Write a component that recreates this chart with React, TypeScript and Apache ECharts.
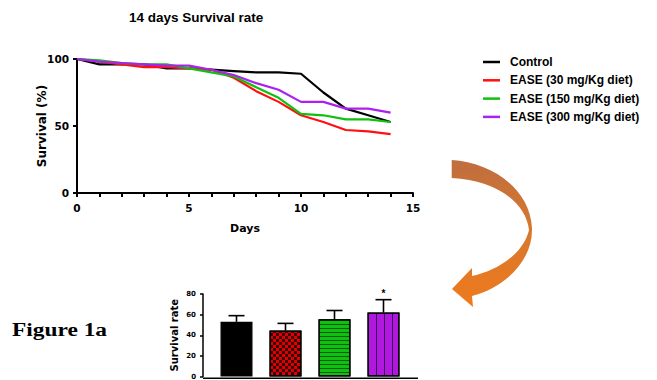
import React, { useEffect, useRef } from "react";
import * as echarts from "echarts";

const days = [0, 1, 2, 3, 4, 5, 6, 7, 8, 9, 10, 11, 12, 13, 14];
const control = [100, 96, 96, 96, 93, 93, 92, 91, 90, 90, 89, 75, 63, 58, 53];
const ease30 = [100, 98, 96, 94, 94, 93, 92, 86, 76, 68, 58, 53, 47, 46, 44];
const ease150 = [100, 99, 97, 96, 96, 93, 90, 87, 79, 71, 59, 58, 55, 55, 53];
const ease300 = [100, 98, 97, 96, 95, 95, 92, 88, 82, 77, 68, 68, 63, 63, 60];
const seriesNames = ["Control", "EASE (30 mg/Kg diet)", "EASE (150 mg/Kg diet)", "EASE (300 mg/Kg diet)"];

const groups = ["Control", "EASE 30", "EASE 150", "EASE 300"];
const barMeans = [53, 44.5, 55.5, 62];
const barErrors = [6, 7, 8.5, 12.5];
const barSig = ["", "", "", "*"];

const FONT = "'Liberation Sans', Arial, sans-serif";
const WIDE = "'DejaVu Sans', 'Liberation Sans', sans-serif";

const arrowPath =
  "M451.7 160 C490 162 530 188 532 228 C533 262 503 288 472 296 L473 307 L452 289 L472 268 L472 276 C500 270 524 252 529 230 C526 202 495 180 451.7 178 Z";
echarts.graphic.registerShape("bigArrow", echarts.graphic.extendPath(arrowPath, {}));

export default function App() {
  const ref = useRef<HTMLDivElement>(null);
  useEffect(() => {
    if (!ref.current) return;
    const chart = echarts.init(ref.current, null, { renderer: "svg" });
    const lineColors = ["#000000", "#ff1010", "#10c010", "#aa22ee"];
    const lineData = [control, ease30, ease150, ease300];
    const barColors = ["#000000", "#e00000", "#10c010", "#b018e0"];
    const decals: any[] = [
      null,
      { symbol: "rect", symbolSize: 1, color: "rgba(0,0,0,0.75)", dashArrayX: [[3, 3], [0, 3, 3, 0]], dashArrayY: [3, 0] },
      { symbol: "rect", symbolSize: 1, color: "rgba(0,60,0,0.75)", dashArrayX: [1, 0], dashArrayY: [1, 2.5] },
      { symbol: "rect", symbolSize: 1, color: "rgba(40,0,60,0.85)", dashArrayX: [1, 7], dashArrayY: [1, 0] },
    ];
    const axisLine = { show: true, lineStyle: { color: "#000", width: 2 } };
    chart.setOption({
      animation: false,
      title: {
        text: "14 days Survival rate",
        left: 124,
        top: 5,
        textStyle: { fontFamily: FONT, fontWeight: "bold", fontSize: 13.5, color: "#000" },
      },
      legend: {
        orient: "vertical",
        left: 478,
        top: 50,
        icon: "rect",
        itemWidth: 17,
        itemHeight: 2.5,
        itemGap: 4.3,
        data: seriesNames,
        textStyle: { fontFamily: FONT, fontWeight: "bold", fontSize: 12, lineHeight: 14, color: "#000", padding: [0, 0, 0, 5] },
      },
      grid: [
        { left: 77, right: 244, top: 59, bottom: 187 },
        { left: 212, width: 196, top: 294, bottom: 2 },
      ],
      xAxis: [
        {
          gridIndex: 0,
          type: "value",
          min: 0,
          max: 15,
          interval: 5,
          name: "Days",
          nameLocation: "middle",
          nameGap: 30,
          nameMoveOverlap: false,
          nameTextStyle: { fontFamily: WIDE, fontWeight: "bold", fontSize: 11, color: "#000" },
          axisLine,
          axisTick: { show: true, length: 4, lineStyle: { color: "#000", width: 2 } },
          minorTick: { show: true, splitNumber: 5, length: 4, lineStyle: { color: "#000", width: 2 } },
          splitLine: { show: false },
          axisLabel: { fontFamily: WIDE, fontWeight: "bold", fontSize: 10.5, color: "#000", margin: 9 },
        },
        {
          gridIndex: 1,
          type: "category",
          data: groups,
          axisLine: { show: false },
          axisTick: { show: false },
          axisLabel: { show: false },
        },
      ],
      yAxis: [
        {
          gridIndex: 0,
          type: "value",
          min: 0,
          max: 100,
          interval: 50,
          name: "Survival (%)",
          nameLocation: "middle",
          nameGap: 29,
          nameMoveOverlap: false,
          nameTextStyle: { fontFamily: WIDE, fontWeight: "bold", fontSize: 12, color: "#000" },
          axisLine,
          axisTick: { show: true, length: 4, lineStyle: { color: "#000", width: 2 } },
          splitLine: { show: false },
          axisLabel: { fontFamily: WIDE, fontWeight: "bold", fontSize: 10.5, color: "#000", margin: 8 },
        },
        {
          gridIndex: 1,
          type: "value",
          min: 0,
          max: 80,
          interval: 20,
          offset: 9,
          name: "Survival rate",
          nameLocation: "middle",
          nameGap: 24,
          nameMoveOverlap: false,
          nameTextStyle: { fontFamily: WIDE, fontWeight: "bold", fontSize: 10, color: "#000" },
          axisLine: { show: true, lineStyle: { color: "#000", width: 1.5 } },
          axisTick: { show: true, length: 3, lineStyle: { color: "#000", width: 1.5 } },
          splitLine: { show: false },
          axisLabel: { fontFamily: WIDE, fontWeight: "bold", fontSize: 7, color: "#000", margin: 7 },
        },
      ],
      series: [
        ...seriesNames.map((name, i) => ({
          name,
          type: "line",
          xAxisIndex: 0,
          yAxisIndex: 0,
          symbol: "none",
          color: lineColors[i],
          lineStyle: { width: 2.2, color: lineColors[i] },
          data: days.map((d, j) => [d, lineData[i][j]]),
        })),
        {
          name: "bars",
          type: "bar",
          xAxisIndex: 1,
          yAxisIndex: 1,
          barWidth: 32,
          data: barMeans.map((v, i) => ({
            value: v,
            itemStyle: {
              color: barColors[i],
              borderColor: "#000",
              borderWidth: 1.2,
              decal: decals[i] || undefined,
            },
          })),
        },
        {
          name: "errors",
          type: "custom",
          xAxisIndex: 1,
          yAxisIndex: 1,
          z: 5,
          data: barMeans.map((v, i) => [i, v, barErrors[i]]),
          renderItem: (params: any, api: any) => {
            const x = api.value(0);
            const m = api.value(1);
            const e = api.value(2);
            const base = api.coord([x, m]);
            const top = api.coord([x, m + e]);
            const half = 8;
            const style = { stroke: "#000", lineWidth: 1.6 };
            const children: any[] = [
              { type: "line", shape: { x1: base[0], y1: base[1], x2: top[0], y2: top[1] }, style },
              { type: "line", shape: { x1: top[0] - half, y1: top[1], x2: top[0] + half, y2: top[1] }, style },
            ];
            const s = barSig[params.dataIndex];
            if (s) {
              children.push({
                type: "text",
                x: top[0],
                y: top[1] - 1,
                style: { text: s, fontSize: 10, fontWeight: "bold", fontFamily: FONT, fill: "#000", align: "center", verticalAlign: "bottom" },
              });
            }
            return { type: "group", children };
          },
        },
      ],
      graphic: [
        {
          type: "line",
          shape: { x1: 203, y1: 378.3, x2: 418, y2: 378.3 },
          style: { stroke: "#000", lineWidth: 1.5 },
        },
        {
          type: "text",
          x: 12,
          y: 320,
          scaleX: 1.2,
          style: { text: "Figure 1a", fontFamily: "'Liberation Serif', 'Times New Roman', serif", fontWeight: "bold", fontSize: 19.5, fill: "#000" },
        },
        {
          type: "bigArrow",
          x: 0,
          y: 0,
          style: {
            fill: {
              type: "linear",
              x: 0,
              y: 0,
              x2: 0,
              y2: 1,
              colorStops: [
                { offset: 0, color: "#bf6e3e" },
                { offset: 0.5, color: "#d8782e" },
                { offset: 1, color: "#ef7a1c" },
              ],
            },
          },
        },
      ],
    });
    return () => chart.dispose();
  }, []);
  return <div ref={ref} style={{ position: "fixed", left: 0, top: 0, width: 657, height: 380, background: "#fff" }} />;
}
